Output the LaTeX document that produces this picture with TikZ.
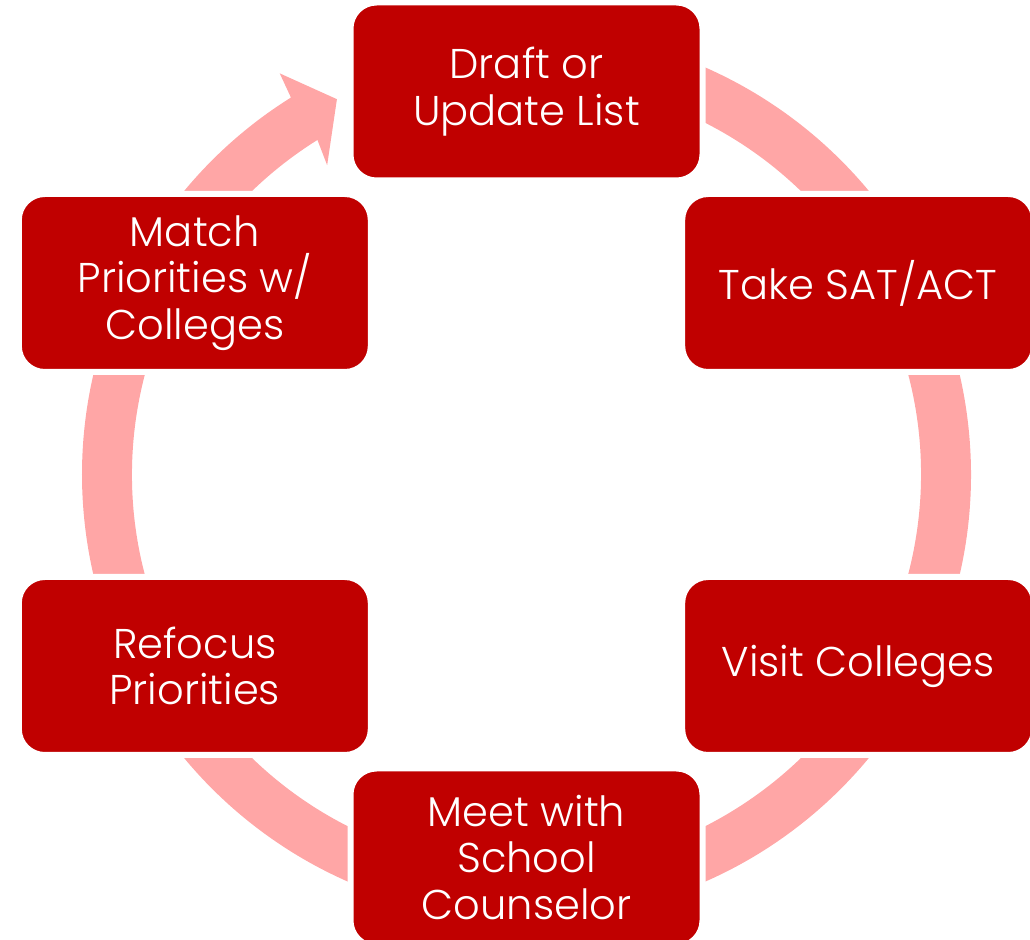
\documentclass[tikz,border=0pt]{standalone}
\usepackage{fontspec}
\setmainfont{Poppins Light}
\usetikzlibrary{positioning}
\definecolor{stagered}{HTML}{C00000}
\definecolor{ringpink}{HTML}{FFA6A6}

\begin{document}
\begin{tikzpicture}[x=0.5pt,y=0.5pt,
    stage/.style={rectangle,rounded corners=13pt,fill=stagered,draw=white,line width=3pt,
    minimum width=176pt,minimum height=89pt,inner sep=0pt,
    align=center,text=white,font=\fontsize{20.8}{23.4}\selectfont},
    ring/.style={fill=ringpink}]
 \useasboundingbox (0,0) rectangle (1030,939);
 \clip (0,0) rectangle (1030,939);
 \coordinate (c) at (526.5,464.5);
 % the ring, tail under the first box, head pointing back at it
 \fill[ring] ([shift={(c)}]95:222.25pt) arc[start angle=95,end angle=-238,radius=222.25pt]
   -- ([shift={(c)}]-238.4:235.5pt) -- ([shift={(c)}]-243.2:210.25pt)
   -- ([shift={(c)}]-237.2:184pt) -- ([shift={(c)}]-238:197.25pt)
   arc[start angle=-238,end angle=95,radius=197.25pt] -- cycle;
 \foreach \Ang/\Txt [count=\N] in {90/{Draft or\\Update List},30/{Take SAT/ACT},
   -30/{Visit Colleges},-90/{Meet with\\School\\Counselor},
   -150/{Refocus\\Priorities},150/{Match\\Priorities w/\\Colleges}}
 {\node[stage] (stage-\N) at ([shift={(c)}]\Ang:191.5pt) {\Txt};}
\end{tikzpicture}
\end{document}
